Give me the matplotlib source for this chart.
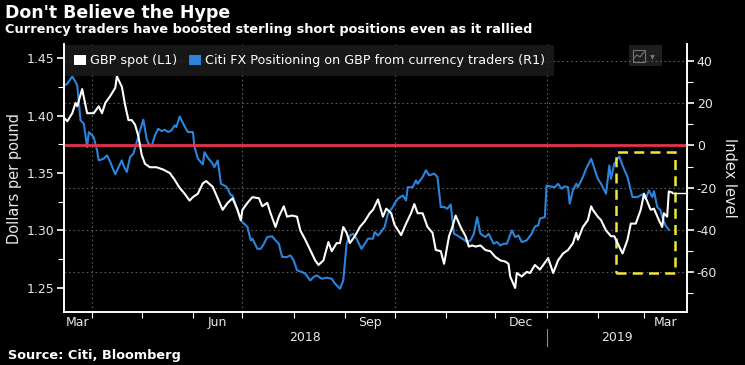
import matplotlib
matplotlib.use("Agg")
import matplotlib.pyplot as plt
import matplotlib.dates as mdates
from matplotlib.patches import Patch, Rectangle
from matplotlib.ticker import MultipleLocator, FormatStrFormatter
import pandas as pd

plt.rcParams['font.family'] = ['DejaVu Sans']
plt.rcParams['axes.unicode_minus'] = False

# --- data (days counted from 2018-03-15) ---
start = pd.Timestamp('2018-03-15')

gbp_days = [0, 2, 5, 7, 8, 11, 14, 18, 21, 23, 25, 28, 31, 32, 35, 37, 39, 41, 43, 45,
            47, 49, 52, 56, 60, 64, 67, 70, 73, 76, 78, 81, 84, 86, 90, 93, 96, 99, 102, 105,
            107, 108, 111, 114, 118, 120, 123, 125, 128, 130, 133, 135, 138, 141, 143, 146, 149, 152, 154, 157,
            160, 162, 165, 167, 169, 171, 173, 176, 179, 182, 185, 187, 190, 193, 195, 198, 200, 204, 207, 210,
            212, 214, 217, 220, 223, 225, 228, 230, 233, 235, 237, 240, 243, 245, 247, 249, 252, 255, 258, 261,
            264, 267, 269, 270, 273, 274, 277, 280, 282, 285, 288, 293, 296, 299, 302, 305, 308, 310, 311, 314,
            317, 319, 320, 323, 325, 328, 331, 333, 336, 338, 341, 343, 346, 349, 351, 353, 355, 357, 360, 362,
            363, 365, 366, 368]
gbp_spot = [1.398, 1.395, 1.402, 1.411, 1.408, 1.423, 1.402, 1.402, 1.408, 1.402, 1.411, 1.417, 1.424, 1.434, 1.425, 1.409, 1.396, 1.396, 1.392, 1.382,
            1.366, 1.358, 1.355, 1.355, 1.353, 1.350, 1.344, 1.337, 1.332, 1.326, 1.329, 1.332, 1.341, 1.343, 1.338, 1.328, 1.318, 1.324, 1.328, 1.318,
            1.309, 1.318, 1.324, 1.329, 1.328, 1.321, 1.324, 1.315, 1.303, 1.312, 1.321, 1.312, 1.313, 1.312, 1.300, 1.292, 1.283, 1.274, 1.270, 1.274,
            1.290, 1.282, 1.289, 1.289, 1.303, 1.298, 1.289, 1.295, 1.303, 1.308, 1.315, 1.318, 1.327, 1.312, 1.319, 1.315, 1.305, 1.296, 1.306, 1.315,
            1.323, 1.315, 1.315, 1.303, 1.298, 1.283, 1.282, 1.271, 1.295, 1.303, 1.313, 1.303, 1.295, 1.286, 1.287, 1.286, 1.287, 1.283, 1.282, 1.277,
            1.274, 1.273, 1.271, 1.260, 1.250, 1.263, 1.260, 1.264, 1.263, 1.270, 1.266, 1.276, 1.263, 1.274, 1.280, 1.283, 1.289, 1.298, 1.292, 1.303,
            1.309, 1.321, 1.318, 1.312, 1.309, 1.300, 1.295, 1.295, 1.286, 1.280, 1.292, 1.306, 1.306, 1.318, 1.332, 1.325, 1.318, 1.319, 1.309, 1.303,
            1.315, 1.312, 1.334, 1.333]

citi_days = [0, 2, 5, 7, 8, 10, 12, 14, 15, 18, 20, 21, 24, 26, 28, 31, 33, 35, 36, 38,
             40, 42, 44, 46, 48, 50, 51, 53, 55, 57, 59, 61, 63, 65, 67, 68, 70, 73, 75, 78,
             79, 81, 84, 85, 87, 90, 91, 93, 95, 98, 99, 101, 102, 105, 107, 108, 111, 113, 114, 117,
             119, 121, 123, 126, 128, 130, 132, 135, 137, 139, 141, 144, 146, 149, 151, 153, 156, 159, 162, 164,
             167, 169, 171, 173, 175, 177, 180, 182, 184, 187, 188, 190, 191, 194, 196, 199, 200, 202, 205, 207,
             208, 211, 213, 214, 217, 219, 221, 224, 226, 228, 230, 232, 234, 236, 238, 241, 244, 246, 248, 250,
             252, 255, 257, 260, 262, 264, 266, 268, 271, 273, 275, 277, 280, 283, 285, 287, 288, 291, 292, 294,
             297, 299, 301, 303, 305, 306, 308, 310, 311, 314, 316, 319, 320, 323, 325, 326, 328, 330, 331, 333,
             336, 338, 341, 344, 347, 350, 352, 354, 356, 357, 359, 361, 362, 364, 366]
citi_pos = [28.4, 29.2, 32.7, 30.0, 28.4, 11.8, 10.3, -0.8, 6.3, 3.9, -2.4, -7.1, -6.3, -4.7, -7.9, -13.7, -10.3, -7.1, -9.5, -12.6,
            -5.5, -3.9, 1.6, 7.1, 12.2, 3.2, 1.1, -0.5, 4.7, 7.9, 6.8, 7.4, 6.3, 7.1, 9.5, 8.7, 13.7, 9.0, 6.3, 6.3,
            -0.8, -6.3, -9.0, -3.2, -5.8, -8.7, -10.3, -7.1, -18.2, -19.4, -20.5, -23.7, -23.7, -30.8, -35.5, -36.3, -38.7, -45.0, -44.2, -49.0,
            -49.0, -46.6, -43.4, -43.1, -45.0, -46.6, -52.9, -52.9, -52.1, -54.5, -59.2, -60.0, -60.8, -64.0, -62.4, -61.6, -63.2, -62.7, -63.2, -65.5,
            -67.9, -64.0, -46.6, -42.7, -41.9, -44.2, -49.0, -46.6, -44.2, -44.2, -41.1, -42.7, -41.9, -38.7, -32.4, -29.2, -27.6, -25.3, -23.7, -26.1,
            -19.8, -19.8, -16.6, -18.2, -15.0, -11.8, -14.2, -13.4, -15.0, -29.2, -29.2, -30.0, -28.0, -41.9, -42.7, -44.2, -45.8, -45.0, -41.9, -34.0,
            -41.9, -43.4, -41.9, -46.6, -45.8, -47.4, -46.6, -46.6, -40.3, -43.4, -42.7, -45.8, -45.0, -41.9, -38.4, -37.9, -34.7, -34.0, -19.0, -19.4,
            -19.8, -18.2, -20.5, -19.4, -19.8, -27.6, -21.3, -18.2, -19.8, -15.0, -11.0, -6.3, -8.7, -15.8, -18.2, -19.8, -22.9, -9.5, -15.8, -8.7,
            -5.2, -9.5, -15.0, -24.5, -24.5, -23.2, -25.3, -21.3, -24.5, -21.7, -29.2, -30.8, -34.0, -37.9, -40.0]

axis_days = 377
left_lim = (1.2291, 1.4622)
right_lim = (-78.96, 48.06)

quarter_starts = ['2018-04-01', '2018-07-01', '2018-10-01', '2019-01-01']
label_months = ['2018-03-01', '2018-06-01', '2018-09-01', '2018-12-01', '2019-03-01']
month_names = ['Mar', 'Jun', 'Sep', 'Dec', 'Mar']
years = ['2018', '2019']

hl_start, hl_end = '2019-02-12', '2019-03-20'
hl_low, hl_high = -60.5, -3.0

title = "Don't Believe the Hype"
subtitle = "Currency traders have boosted sterling short positions even as it rallied"
source = "Source: Citi, Bloomberg"

white = '#ffffff'
blue = '#2b84dc'
red = '#e6324b'
yellow = '#f2e43a'
grid_c = '#5c5c5c'
text_c = '#e8e8e8'

gbp_dates = start + pd.to_timedelta(gbp_days, unit='D')
citi_dates = start + pd.to_timedelta(citi_days, unit='D')
xmin = start
xmax = start + pd.Timedelta(days=axis_days)

fig = plt.figure(figsize=(7.45, 3.65), dpi=100, facecolor='black')
ax = fig.add_axes([64 / 745, 53 / 365, 623 / 745, 268 / 365])
ax2 = ax.twinx()
ax.set_zorder(3)
ax2.set_zorder(2)
ax.patch.set_visible(False)
ax2.patch.set_visible(False)

# right axis: grid, citi line, zero line, highlight box
ax2.grid(axis='y', color=grid_c, linestyle=(0, (1.5, 2.5)), linewidth=0.8)
for q in quarter_starts:
    ax2.axvline(pd.Timestamp(q), color=grid_c, linestyle=(0, (1.5, 2.5)), linewidth=0.8, zorder=0)
ax2.plot(citi_dates, citi_pos, color=blue, linewidth=1.5, zorder=2)
ax2.axhline(0, color=red, linewidth=2, zorder=3)
x0 = mdates.date2num(pd.Timestamp(hl_start))
x1 = mdates.date2num(pd.Timestamp(hl_end))
ax2.add_patch(Rectangle((x0, hl_low), x1 - x0, hl_high - hl_low, fill=False,
                        edgecolor=yellow, linewidth=1.8, linestyle=(0, (4, 2.5)), zorder=4))
ax2.set_ylim(*right_lim)
ax2.yaxis.set_major_locator(MultipleLocator(20))
ax2.yaxis.set_minor_locator(MultipleLocator(10))
ax2.tick_params(axis='y', which='major', colors='white', labelcolor=text_c, length=5, width=1.2, labelsize=9, pad=2)
ax2.tick_params(axis='y', which='minor', colors='white', length=4, width=0.8)
ax2.set_ylabel('Index level', color=text_c, fontsize=10.5, rotation=-90, va='center')
ax2.yaxis.set_label_coords(1.069, 0.5)

# left axis: GBP spot
ax.plot(gbp_dates, gbp_spot, color=white, linewidth=1.5, zorder=3)
ax.plot([gbp_dates[-1], xmax], [gbp_spot[-1], gbp_spot[-1]], color=white, linewidth=1, clip_on=False)
ax.set_ylim(*left_lim)
ax.set_xlim(xmin, xmax)
ax.yaxis.set_major_locator(MultipleLocator(0.05))
ax.yaxis.set_minor_locator(MultipleLocator(0.025))
ax.yaxis.set_major_formatter(FormatStrFormatter('%.2f'))
ax.tick_params(axis='y', which='major', colors='white', labelcolor=text_c, length=5, width=1.2, labelsize=9, pad=2)
ax.tick_params(axis='y', which='minor', colors='white', length=4, width=0.8)
ax.set_ylabel('Dollars per pound', color=text_c, fontsize=10.5, va='center')
ax.yaxis.set_label_coords(-0.079, 0.5)

ax.set_xticks([pd.Timestamp(q) for q in quarter_starts])
ax.set_xticklabels([])
ax.xaxis.set_minor_locator(mdates.MonthLocator())
ax.tick_params(axis='x', which='both', colors='white', length=4, width=0.8)

for a in (ax, ax2):
    a.spines['top'].set_visible(False)
    for s in ('left', 'right', 'bottom'):
        a.spines[s].set_color('white')
        a.spines[s].set_linewidth(1.2)

# month and year labels centred on the visible part of each period
xt = ax.get_xaxis_transform()
for m, name in zip(label_months, month_names):
    m0 = max(pd.Timestamp(m), xmin)
    m1 = min(pd.Timestamp(m) + pd.offsets.MonthBegin(1), xmax)
    ax.text(m0 + (m1 - m0) / 2, -0.041, name, transform=xt, ha='center', va='center',
            color=text_c, fontsize=9)
for y in years:
    y0 = max(pd.Timestamp(y + '-01-01'), xmin)
    y1 = min(pd.Timestamp(str(int(y) + 1) + '-01-01'), xmax)
    ax.text(y0 + (y1 - y0) / 2, -0.097, y, transform=xt, ha='center', va='center',
            color=text_c, fontsize=9)
ax.plot([pd.Timestamp(years[1] + '-01-01')] * 2, [-0.063, -0.127], transform=xt,
        color='#8a8a8a', linewidth=0.8, clip_on=False)

# legend
handles = [Patch(facecolor=white, label='GBP spot (L1)'),
           Patch(facecolor=blue, label='Citi FX Positioning on GBP from currency traders (R1)')]
leg = ax.legend(handles=handles, loc='upper left', bbox_to_anchor=(0, 1), ncol=2,
                frameon=True, fancybox=False, facecolor='#1e1e1e', edgecolor='none', framealpha=0.8,
                fontsize=9.2, labelcolor='white', handlelength=0.9, handleheight=0.9,
                handletextpad=0.3, columnspacing=1.0, borderaxespad=0.1, borderpad=0.7)

# small chart-type button at top right
fig.patches.append(Rectangle((629 / 745, 1 - 66 / 365), 33 / 745, 21 / 365,
                             transform=fig.transFigure, facecolor='#1e1e1e', edgecolor='none'))
fig.patches.append(Rectangle((633 / 745, 1 - 62 / 365), 12 / 745, 12 / 365,
                             transform=fig.transFigure, fill=False, edgecolor='#777777', linewidth=0.8))
fig.lines.append(plt.Line2D([634 / 745, 637 / 745, 640 / 745, 644 / 745],
                            [1 - 58 / 365, 1 - 55 / 365, 1 - 57 / 365, 1 - 52 / 365],
                            transform=fig.transFigure, color='#777777', linewidth=0.8))
fig.text(652 / 745, 1 - 56 / 365, '▾', color='#777777', fontsize=7, ha='center', va='center')

fig.text(5 / 745, 1 - 13 / 365, title, color='white', fontsize=12.5, fontweight='bold', va='center')
fig.text(5 / 745, 1 - 30 / 365, subtitle, color='white', fontsize=9.3, fontweight='bold', va='center')
fig.text(8 / 745, 1 - 356 / 365, source, color='white', fontsize=9.3, fontweight='bold', va='center')

fig.savefig('out.png', dpi=100, facecolor='black')
